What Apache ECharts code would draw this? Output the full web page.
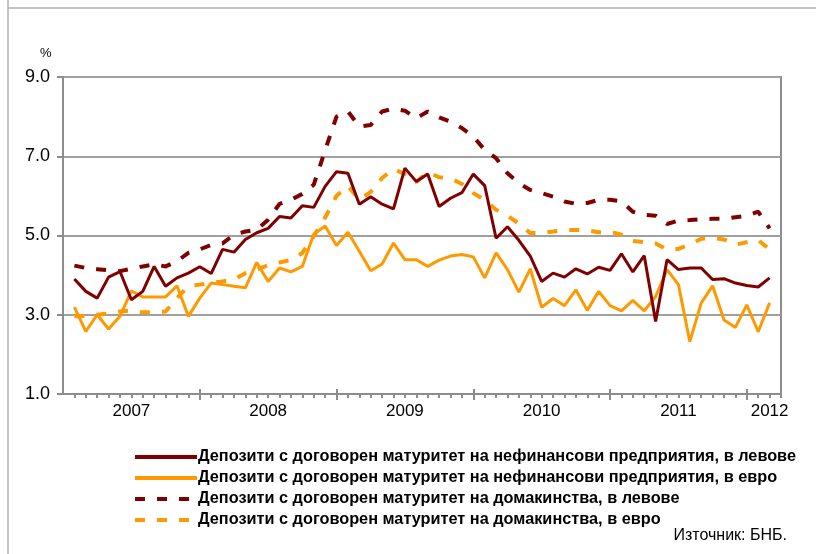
<!DOCTYPE html>
<html>
 <head>
  <meta charset="utf-8">
  <title>Депозити с договорен матуритет</title>
  <script src="https://cdn.jsdelivr.net/npm/echarts@6/dist/echarts.min.js"></script>
  <style>
    html, body, #container {
    width: 100%;
    height: 100%;
    margin: 0;
    padding: 0;
    background: #fff;
    }
  </style>
 </head>

<body>
  <div id="container"></div>
  <script>

    // monthly, Jan 2007 .. Feb 2012
    var startYear = 2007;
    var yearLabels = ['2007', '2008', '2009', '2010', '2011', '2012'];

    var seriesNames = [
      'Депозити с договорен матуритет на нефинансови предприятия, в левове',
      'Депозити с договорен матуритет на нефинансови предприятия, в евро',
      'Депозити с договорен матуритет на домакинства, в левове',
      'Депозити с договорен матуритет на домакинства, в евро'
    ];

    var firmsLev = [3.90, 3.59, 3.42, 3.95, 4.09, 3.38, 3.59, 4.22, 3.72, 3.93,
      4.05, 4.21, 4.04, 4.65, 4.58, 4.90, 5.07, 5.18, 5.48, 5.44,
      5.75, 5.71, 6.24, 6.61, 6.57, 5.79, 5.98, 5.79, 5.67, 6.70,
      6.36, 6.55, 5.73, 5.94, 6.08, 6.55, 6.26, 4.93, 5.22, 4.88,
      4.48, 3.84, 4.05, 3.95, 4.16, 4.03, 4.20, 4.12, 4.54, 4.08,
      4.49, 2.83, 4.39, 4.14, 4.18, 4.18, 3.89, 3.91, 3.80, 3.74,
      3.70, 3.93];

    var firmsEur = [3.19, 2.58, 3.00, 2.64, 2.96, 3.60, 3.45, 3.45, 3.45, 3.73,
      2.96, 3.42, 3.80, 3.76, 3.72, 3.68, 4.32, 3.84, 4.18, 4.08,
      4.22, 5.03, 5.24, 4.75, 5.08, 4.60, 4.11, 4.28, 4.81, 4.39,
      4.39, 4.22, 4.38, 4.48, 4.52, 4.46, 3.93, 4.56, 4.14, 3.57,
      4.16, 3.19, 3.41, 3.23, 3.63, 3.11, 3.59, 3.23, 3.10, 3.36,
      3.10, 3.46, 4.14, 3.76, 2.32, 3.30, 3.73, 2.87, 2.68, 3.25,
      2.57, 3.30];

    var householdsLev = [4.24, 4.18, 4.15, 4.12, 4.10, 4.16, 4.22, 4.27, 4.22, 4.35,
      4.56, 4.65, 4.76, 4.80, 5.02, 5.10, 5.15, 5.40, 5.80, 5.90,
      6.05, 6.28, 7.15, 8.00, 8.13, 7.75, 7.79, 8.13, 8.20, 8.15,
      7.96, 8.13, 7.98, 7.87, 7.71, 7.50, 7.16, 6.95, 6.57, 6.32,
      6.15, 6.07, 5.98, 5.86, 5.80, 5.82, 5.90, 5.90, 5.86, 5.60,
      5.52, 5.50, 5.29, 5.38, 5.39, 5.41, 5.42, 5.42, 5.46, 5.50,
      5.60, 5.18];

    var householdsEur = [2.96, 2.97, 3.00, 3.03, 3.08, 3.11, 3.06, 3.06, 3.08, 3.42,
      3.72, 3.76, 3.80, 3.84, 3.89, 4.05, 4.14, 4.25, 4.32, 4.38,
      4.56, 4.98, 5.45, 6.00, 6.25, 5.90, 6.10, 6.45, 6.68, 6.55,
      6.35, 6.60, 6.47, 6.45, 6.30, 6.07, 5.90, 5.65, 5.50, 5.30,
      5.06, 5.06, 5.10, 5.14, 5.14, 5.13, 5.08, 5.10, 5.02, 4.86,
      4.83, 4.80, 4.65, 4.66, 4.77, 4.92, 4.94, 4.90, 4.77, 4.83,
      4.88, 4.65];

    // axis slots: 0 = start of 2007, 1..62 = month ends, 63 = end of Mar 2012
    var months = [''];
    for (var i = 0; i < firmsLev.length; i++) {
      var y = startYear + Math.floor(i / 12);
      var m = i % 12 + 1;
      months.push(y + '-' + (m < 10 ? '0' + m : m));
    }
    months.push('');

    function pad(arr) { return [null].concat(arr); }

    var dark = '#800000';
    var orange = '#FF9900';
    var axisGray = '#8c8c8c';
    var font = 'Liberation Sans, Arial, sans-serif';

    function yearLabel(idx) {
      if (idx % 12 === 6) return yearLabels[Math.floor(idx / 12)];
      if (idx === months.length - 2) return yearLabels[yearLabels.length - 1];
      return '';
    }

    var chartDom = document.getElementById('container');
    var myChart = echarts.init(chartDom, null, { renderer: 'canvas' });

    var hiddenAxis = {
      type: 'category',
      position: 'bottom',
      boundaryGap: false,
      data: months,
      axisLine: { show: false },
      axisLabel: { show: false },
      splitLine: { show: false }
    };

    var options = {
      animation: false,
      backgroundColor: '#fff',
      grid: {
        left: 63, right: 35, top: 77, bottom: 160,
        show: true, borderColor: axisGray, borderWidth: 2
      },
      xAxis: [
        {
          type: 'category',
          position: 'bottom',
          boundaryGap: false,
          data: months,
          axisLine: { lineStyle: { color: axisGray, width: 2 } },
          axisTick: {
            interval: function (idx) { return idx % 12 !== 0; },
            length: 4,
            lineStyle: { color: axisGray, width: 2 }
          },
          axisLabel: {
            interval: 0,
            margin: 9,
            color: '#000',
            fontFamily: font,
            fontSize: 17,
            formatter: function (v, idx) { return yearLabel(idx); }
          },
          splitLine: { show: false }
        },
        Object.assign({}, hiddenAxis, {
          axisTick: {
            interval: function (idx) { return idx % 12 === 0 && idx > 0; },
            length: 6,
            lineStyle: { color: axisGray, width: 2 }
          }
        }),
        Object.assign({}, hiddenAxis, {
          axisTick: {
            inside: true,
            interval: function (idx) { return idx % 12 === 0 && idx > 0; },
            length: 5,
            lineStyle: { color: axisGray, width: 2 }
          }
        })
      ],
      yAxis: {
        type: 'value',
        min: 1,
        max: 9,
        interval: 2,
        axisLine: { show: true, lineStyle: { color: axisGray, width: 2 } },
        axisTick: { show: true, length: 6, lineStyle: { color: axisGray, width: 2 } },
        axisLabel: {
          margin: 13,
          color: '#000',
          fontFamily: font,
          fontSize: 18,
          formatter: function (v) { return v.toFixed(1); }
        },
        splitLine: { lineStyle: { color: '#a0a0a0', width: 2 } }
      },
      legend: {
        orient: 'vertical',
        left: 133,
        top: 449,
        itemWidth: 62,
        itemHeight: 14,
        itemGap: 5,
        padding: 0,
        selectedMode: false,
        itemStyle: { opacity: 0 },
        lineStyle: { width: 4 },
        textStyle: {
          color: '#000',
          fontFamily: font,
          fontWeight: 'bold',
          fontSize: 16.3,
          lineHeight: 14,
          padding: [0, 0, 0, -4]
        },
        data: seriesNames
      },
      graphic: [
        { type: 'line', silent: true, shape: { x1: 8, y1: 0, x2: 8, y2: 554 },
          style: { stroke: '#b0b0b0', lineWidth: 1.5 } },
        { type: 'line', silent: true, shape: { x1: 8, y1: 8, x2: 816, y2: 8 },
          style: { stroke: '#b0b0b0', lineWidth: 1.5 } },
        { type: 'text', left: 40, top: 47,
          style: { text: '%', fill: '#000', font: '13px Liberation Sans, Arial, sans-serif' } },
        { type: 'text', right: 29, top: 528,
          style: { text: 'Източник: БНБ.', fill: '#000', font: '16px Liberation Sans, Arial, sans-serif' } }
      ],
      series: [
        {
          name: seriesNames[0],
          type: 'line',
          symbol: 'none',
          z: 4,
          data: pad(firmsLev),
          lineStyle: { color: dark, width: 3 },
          itemStyle: { color: dark }
        },
        {
          name: seriesNames[1],
          type: 'line',
          symbol: 'none',
          z: 3,
          data: pad(firmsEur),
          lineStyle: { color: orange, width: 3 },
          itemStyle: { color: orange }
        },
        {
          name: seriesNames[2],
          type: 'line',
          symbol: 'none',
          z: 2,
          data: pad(householdsLev),
          lineStyle: { color: dark, width: 4, type: [10, 12] },
          itemStyle: { color: dark }
        },
        {
          name: seriesNames[3],
          type: 'line',
          symbol: 'none',
          z: 2,
          data: pad(householdsEur),
          lineStyle: { color: orange, width: 4, type: [10, 12] },
          itemStyle: { color: orange }
        }
      ]
    };

    myChart.setOption(options);
  </script>
</body>
</html>
